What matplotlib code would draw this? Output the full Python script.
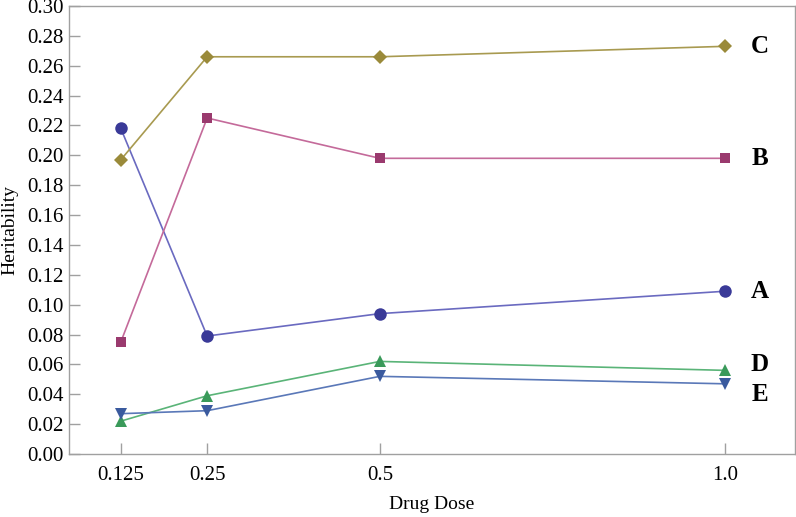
import matplotlib
matplotlib.use('Agg')
import matplotlib.pyplot as plt

plt.rcParams['font.family'] = ['Liberation Serif', 'DejaVu Serif']

# 数据
doses = [0.125, 0.25, 0.5, 1.0]
dose_labels = ['0.125', '0.25', '0.5', '1.0']
series_names = ['A', 'B', 'C', 'D', 'E']
h_a = [0.218, 0.079, 0.094, 0.109]
h_b = [0.075, 0.225, 0.198, 0.198]
h_c = [0.197, 0.266, 0.266, 0.273]
h_d = [0.022, 0.039, 0.062, 0.056]
h_e = [0.027, 0.029, 0.052, 0.047]
y_ticks = [0.00, 0.02, 0.04, 0.06, 0.08, 0.10, 0.12, 0.14, 0.16, 0.18,
           0.20, 0.22, 0.24, 0.26, 0.28, 0.30]

# 样式: (数据, 标记, 标记色, 线色, 标记大小, 标签y偏移)
styles = [
    (h_a, 'o', '#3a3a98', '#6a6ac0', 9, 0.0),
    (h_b, 's', '#9a3a6e', '#c46a9a', 7.5, 0.0),
    (h_c, 'D', '#9a8a3a', '#a89a50', 7.5, 0.0),
    (h_d, '^', '#3a9a5a', '#5ab478', 9, 0.004),
    (h_e, 'v', '#3a5a9e', '#5a78b8', 9, -0.007),
]

fig = plt.figure(figsize=(7.96, 5.17), dpi=100)
ax = fig.add_axes([69 / 796, 1 - 454 / 517, (795 - 69) / 796, (454 - 6) / 517])

for name, (vals, mk, mc, lc, ms, dy) in zip(series_names, styles):
    ax.plot(doses, vals, '-', color=lc, linewidth=1.2, zorder=2)
    ax.plot(doses, vals, linestyle='none', marker=mk, color=mc,
            markersize=ms, markeredgewidth=0, zorder=3)
    ax.text(1.05, vals[-1] + dy, name, fontsize=18, fontweight='bold',
            ha='center', va='center')

ax.set_xlim(0.05, 1.101)
ax.set_ylim(0, 0.30)
ax.set_xticks(doses)
ax.set_xticklabels(dose_labels)
ax.set_yticks(y_ticks)
ax.set_yticklabels([f'{v:.2f}' for v in y_ticks])

for sp in ax.spines.values():
    sp.set_color('#a0a0a0')
    sp.set_linewidth(1.0)
ax.tick_params(direction='in', length=8, width=1.0, color='#a0a0a0',
               labelsize=15, pad=4)
ax.tick_params(axis='x', pad=9)

ax.set_xlabel('Drug Dose', fontsize=14)
ax.set_ylabel('Heritability', fontsize=14)
ax.xaxis.set_label_coords(0.5, -0.094)
ax.yaxis.set_label_coords(-0.070, 0.5)

plt.savefig('out.png', dpi=100, facecolor='white')
